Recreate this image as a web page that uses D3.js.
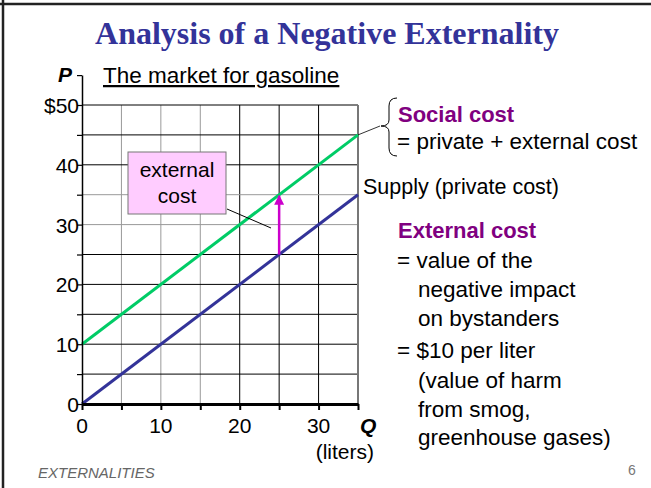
<!DOCTYPE html>
<html>
<head>
<meta charset="utf-8">
<script src="https://cdn.jsdelivr.net/npm/d3@7"></script>
<style>
  body { margin: 0; background: #fff; }
  text { font-family: "Liberation Sans", Arial, sans-serif; }
</style>
</head>
<body>
<div id="vis"></div>
<script>
// chart data
var quantities = [0, 35];
var supplyPrices = [0, 35];
var socialPrices = [10, 45];
var externalAt = 25;          // Q where the external cost arrow is drawn
var externalCost = 10;        // $ per liter
var gridSteps = [5, 10, 15, 20, 25, 30, 35, 40, 45, 50];
var yTickValues = [0, 10, 20, 30, 40, 50];
var yTickLabels = ['0', '10', '20', '30', '40', '$50'];
var xTickValues = [0, 10, 20, 30];
var xTickLabels = ['0', '10', '20', '30'];
var noteLines = ['= value of the', 'negative impact', 'on bystanders',
  '= $10 per liter', '(value of harm', 'from smog,', 'greenhouse gases)'];

var width = 651;
var height = 488;

var svg = d3.select('#vis')
  .append('svg')
  .attr('width', width)
  .attr('height', height);

// slide frame (only top and left edges show)
svg.append('line')
  .attr('x1', 0).attr('x2', width).attr('y1', 4).attr('y2', 4)
  .attr('stroke', '#222').attr('stroke-width', 2.5);
svg.append('line')
  .attr('x1', 3).attr('x2', 3).attr('y1', 0).attr('y2', height)
  .attr('stroke', '#222').attr('stroke-width', 2.5);

svg.append('text')
  .attr('x', 327).attr('y', 44)
  .attr('text-anchor', 'middle')
  .style('font-family', '"Liberation Serif", "Times New Roman", serif')
  .style('font-weight', 'bold')
  .style('font-size', '32px')
  .attr('fill', '#333399')
  .text('Analysis of a Negative Externality');

var x = d3.scaleLinear().domain([0, 35]).range([82, 358]);
var y = d3.scaleLinear().domain([0, 50]).range([404, 105]);

var plot = svg.append('g');

// grid
plot.selectAll('.vgrid')
  .data(gridSteps.filter(function (d) { return d < 35; }))
  .enter().append('line')
  .attr('x1', function (d) { return x(d); })
  .attr('x2', function (d) { return x(d); })
  .attr('y1', y(0)).attr('y2', y(50))
  .attr('stroke', function (d) { return d < 20 ? '#999' : '#000'; })
  .attr('stroke-width', 1);

plot.selectAll('.hgrid')
  .data(gridSteps)
  .enter().append('line')
  .attr('x1', x(0)).attr('x2', x(35))
  .attr('y1', function (d) { return y(d); })
  .attr('y2', function (d) { return y(d); })
  .attr('stroke', function (d) { return (d === 35 || d === 30) ? '#999' : '#000'; })
  .attr('stroke-width', 1);

// right border
plot.append('line')
  .attr('x1', x(35)).attr('x2', x(35))
  .attr('y1', y(0)).attr('y2', y(50))
  .attr('stroke', '#777').attr('stroke-width', 2);

// y axis
var yAxisScale = d3.scaleLinear().domain([0, 55]).range([404, y(55)]);
var yAxis = svg.append('g')
  .attr('transform', 'translate(' + x(0) + ',0)')
  .call(d3.axisLeft(yAxisScale)
    .tickValues(d3.range(0, 56, 5))
    .tickFormat('')
    .tickSize(5)
    .tickSizeOuter(0));
yAxis.select('.domain').attr('stroke', '#000').attr('stroke-width', 1.5);
yAxis.selectAll('.tick line').attr('stroke', '#000').attr('stroke-width', 1.2);

svg.selectAll('.ylab')
  .data(yTickValues)
  .enter().append('text')
  .attr('x', 79)
  .attr('y', function (d) { return y(d) + 8; })
  .attr('text-anchor', 'end')
  .style('font-size', '21px')
  .text(function (d, i) { return yTickLabels[i]; });

// x axis
var xAxis = svg.append('g')
  .attr('transform', 'translate(0,' + y(0) + ')')
  .call(d3.axisBottom(x)
    .tickValues(d3.range(0, 36, 5))
    .tickFormat('')
    .tickSize(6)
    .tickSizeOuter(0));
xAxis.select('.domain').attr('stroke', '#000').attr('stroke-width', 3);
xAxis.selectAll('.tick line').attr('stroke', '#000').attr('stroke-width', 2);

svg.selectAll('.xlab')
  .data(xTickValues)
  .enter().append('text')
  .attr('x', function (d) { return x(d); })
  .attr('y', 433)
  .attr('text-anchor', 'middle')
  .style('font-size', '21px')
  .text(function (d, i) { return xTickLabels[i]; });

svg.append('text')
  .attr('x', 360).attr('y', 433)
  .style('font-size', '21px').style('font-weight', 'bold').style('font-style', 'italic')
  .text('Q');
svg.append('text')
  .attr('x', 374).attr('y', 459)
  .attr('text-anchor', 'end')
  .style('font-size', '21px')
  .text('(liters)');

svg.append('text')
  .attr('x', 72).attr('y', 82)
  .attr('text-anchor', 'end')
  .style('font-size', '21px').style('font-weight', 'bold').style('font-style', 'italic')
  .text('P');

svg.append('text')
  .attr('x', 103).attr('y', 83)
  .style('font-size', '22.5px')
  .style('text-decoration', 'underline')
  .text('The market for gasoline');

// curves
var line = d3.line()
  .x(function (d) { return x(d[0]); })
  .y(function (d) { return y(d[1]); });

plot.append('path')
  .datum(d3.zip(quantities, supplyPrices))
  .attr('d', line)
  .attr('fill', 'none')
  .attr('stroke', '#333399')
  .attr('stroke-width', 3);

plot.append('path')
  .datum(d3.zip(quantities, socialPrices))
  .attr('d', line)
  .attr('fill', 'none')
  .attr('stroke', '#00CC66')
  .attr('stroke-width', 3);

// external cost arrow
var supplyAt = d3.scaleLinear().domain(quantities).range(supplyPrices)(externalAt);
svg.append('defs').append('marker')
  .attr('id', 'arrow')
  .attr('viewBox', '0 0 10 10')
  .attr('refX', 9).attr('refY', 5)
  .attr('markerWidth', 4).attr('markerHeight', 4)
  .attr('orient', 'auto')
  .append('path')
  .attr('d', 'M0,0 L10,5 L0,10 z')
  .attr('fill', '#CC00CC');

svg.append('line')
  .attr('x1', x(externalAt)).attr('x2', x(externalAt))
  .attr('y1', y(supplyAt)).attr('y2', y(supplyAt + externalCost) + 1)
  .attr('stroke', '#CC00CC').attr('stroke-width', 2.5)
  .attr('marker-end', 'url(#arrow)');

// callout box
svg.append('line')
  .attr('x1', 227).attr('y1', 209)
  .attr('x2', 271).attr('y2', 228)
  .attr('stroke', '#000').attr('stroke-width', 1);
svg.append('rect')
  .attr('x', 128).attr('y', 152)
  .attr('width', 98).attr('height', 62)
  .attr('fill', '#FFCCFF')
  .attr('stroke', '#777').attr('stroke-width', 1);
svg.append('text')
  .attr('x', 177).attr('y', 177)
  .attr('text-anchor', 'middle')
  .style('font-size', '21px')
  .text('external');
svg.append('text')
  .attr('x', 177).attr('y', 203)
  .attr('text-anchor', 'middle')
  .style('font-size', '21px')
  .text('cost');

// social cost brace
svg.append('line')
  .attr('x1', x(35)).attr('y1', y(45))
  .attr('x2', 380).attr('y2', 126)
  .attr('stroke', '#000').attr('stroke-width', 0.8);
svg.append('path')
  .attr('d', 'M397,98 Q389,98 389,106 L389,120 Q389,126 381,126 Q389,126 389,132 L389,148 Q389,156 397,156')
  .attr('fill', 'none')
  .attr('stroke', '#000').attr('stroke-width', 1);

var purple = '#800080';
svg.append('text')
  .attr('x', 398).attr('y', 122)
  .style('font-size', '22px').style('font-weight', 'bold')
  .attr('fill', purple)
  .text('Social cost');
svg.append('text')
  .attr('x', 397).attr('y', 149)
  .style('font-size', '22.5px')
  .text('= private + external cost');

svg.append('text')
  .attr('x', 363).attr('y', 194)
  .style('font-size', '21.5px')
  .text('Supply (private cost)');

svg.append('text')
  .attr('x', 398).attr('y', 238)
  .style('font-size', '22px').style('font-weight', 'bold')
  .attr('fill', purple)
  .text('External cost');

var noteY = [268, 297, 326, 358, 388, 417, 445];
svg.selectAll('.note')
  .data(noteLines)
  .enter().append('text')
  .attr('x', function (d) { return d.charAt(0) === '=' ? 397 : 418; })
  .attr('y', function (d, i) { return noteY[i]; })
  .style('font-size', '22.5px')
  .text(function (d) { return d; });

// footer
svg.append('text')
  .attr('x', 38).attr('y', 478)
  .style('font-size', '15px').style('font-style', 'italic')
  .attr('fill', '#666')
  .text('EXTERNALITIES');
svg.append('text')
  .attr('x', 628).attr('y', 475)
  .style('font-size', '14px')
  .attr('fill', '#777')
  .text('6');
</script>
</body>
</html>
